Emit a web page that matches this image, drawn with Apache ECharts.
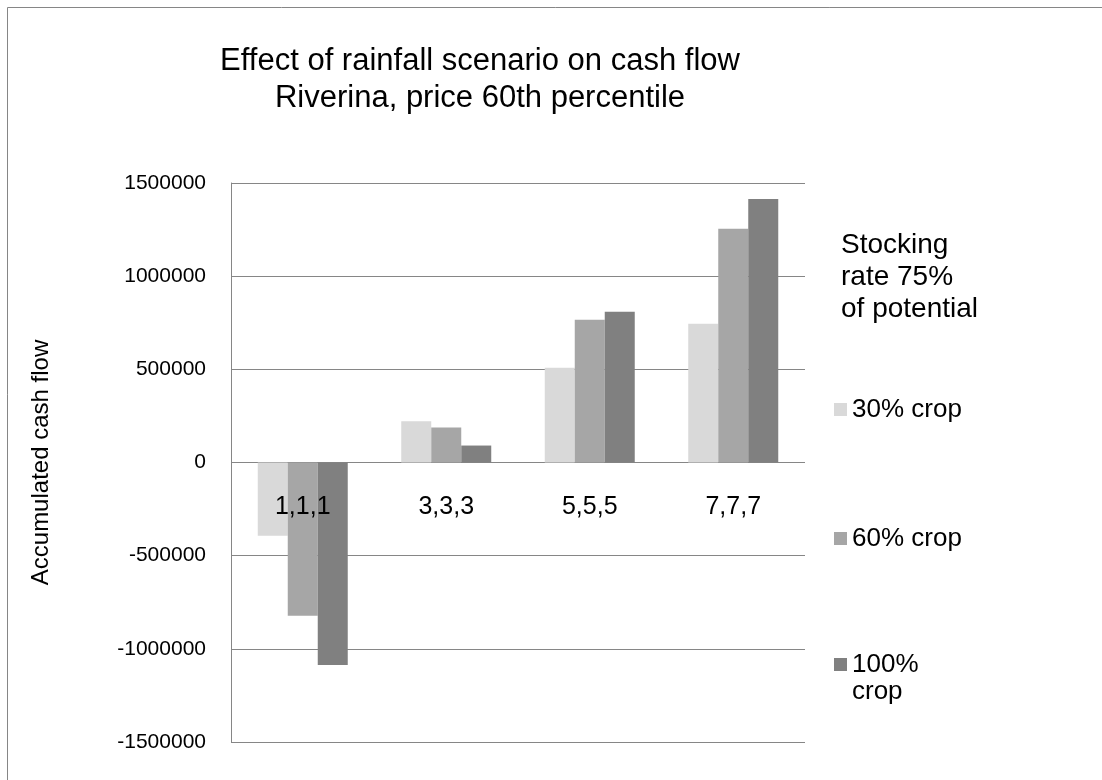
<!DOCTYPE html>
<html>
<head>
<meta charset="utf-8">
<script src="https://cdn.jsdelivr.net/npm/echarts@6/dist/echarts.min.js"></script>
<style>
  html, body { margin: 0; padding: 0; background: #ffffff; }
  #chart { width: 1102px; height: 780px; }
</style>
</head>
<body>
<div id="chart"></div>
<script>
// Rainfall scenarios (x axis)
const categories = ['1,1,1', '3,3,3', '5,5,5', '7,7,7'];

// Accumulated cash flow per crop share
const crop30 = [-393000, 221000, 509000, 745000];
const crop60 = [-823000, 188000, 766000, 1254000];
const crop100 = [-1087000, 91000, 809000, 1414000];

const seriesNames = ['30% crop', '60% crop', '100% crop'];
const seriesColors = ['#d9d9d9', '#a6a6a6', '#808080'];

// Y axis range and step
const yMin = -1500000;
const yMax = 1500000;
const yStep = 500000;

const FONT = "'Liberation Sans', Arial, sans-serif";
const GRID_COLOR = '#868686';

const GRID_TOP = 183;
const GRID_BOTTOM_Y = 742;

const chart = echarts.init(document.getElementById('chart'), null, { renderer: 'canvas' });

function legendFor(name, top, formatter) {
  const lg = {
    data: [name],
    orient: 'vertical',
    left: 834,
    top: top,
    padding: 0,
    itemWidth: 13,
    itemHeight: 13,
    icon: 'rect',
    selectedMode: false,
    textStyle: { fontFamily: FONT, fontSize: 26, color: '#000', lineHeight: 27 }
  };
  if (formatter) lg.formatter = formatter;
  return lg;
}

const option = {
  backgroundColor: '#ffffff',
  animation: false,
  textStyle: { fontFamily: FONT },
  title: [
    {
      text: 'Effect of rainfall scenario on cash flow\nRiverina, price 60th percentile',
      left: 475,
      top: 38,
      textAlign: 'center',
      textStyle: { fontFamily: FONT, fontSize: 31, fontWeight: 'normal', color: '#000', lineHeight: 37 }
    },
    {
      text: 'Stocking\nrate 75%\nof potential',
      left: 836,
      top: 224,
      textStyle: { fontFamily: FONT, fontSize: 28, fontWeight: 'normal', color: '#000', lineHeight: 32 }
    }
  ],
  legend: [
    legendFor(seriesNames[0], 396),
    legendFor(seriesNames[1], 525),
    // blank first line keeps "100%" level with the swatch, "crop" wraps below
    legendFor(seriesNames[2], 624, function () { return ' \n100%\ncrop'; })
  ],
  grid: {
    left: 231, right: 297, top: GRID_TOP, bottom: 780 - GRID_BOTTOM_Y,
    containLabel: false,
    outerBoundsMode: 'none'
  },
  xAxis: {
    type: 'category',
    data: categories,
    z: 10,
    // labels sit just under the zero line (zero is mid-height of the plot)
    axisLine: { show: false, onZero: false },
    axisTick: { show: false },
    axisLabel: {
      margin: -(GRID_BOTTOM_Y - GRID_TOP) / 2 + 32,
      fontFamily: FONT, fontSize: 25, color: '#000'
    },
    splitLine: { show: false }
  },
  yAxis: {
    type: 'value',
    min: yMin,
    max: yMax,
    interval: yStep,
    name: 'Accumulated cash flow',
    nameLocation: 'middle',
    nameGap: 178,
    nameTextStyle: { fontFamily: FONT, fontSize: 24, color: '#000' },
    axisLine: { show: true, lineStyle: { color: GRID_COLOR, width: 1 } },
    axisTick: { show: false },
    axisLabel: {
      margin: 25, fontFamily: FONT, fontSize: 21, color: '#000',
      formatter: function (v) { return String(v); }
    },
    splitLine: { show: true, lineStyle: { color: GRID_COLOR, width: 1 } }
  },
  graphic: [
    {
      type: 'rect',
      silent: true,
      z: -10,
      shape: { x: 7.5, y: 7.5, width: 1300, height: 1000 },
      style: { fill: 'none', stroke: GRID_COLOR, lineWidth: 1 }
    }
  ],
  series: [crop30, crop60, crop100].map(function (values, i) {
    return {
      name: seriesNames[i],
      type: 'bar',
      data: values,
      barWidth: 30,
      barGap: '0%',
      itemStyle: { color: seriesColors[i] }
    };
  })
};

chart.setOption(option);
</script>
</body>
</html>
